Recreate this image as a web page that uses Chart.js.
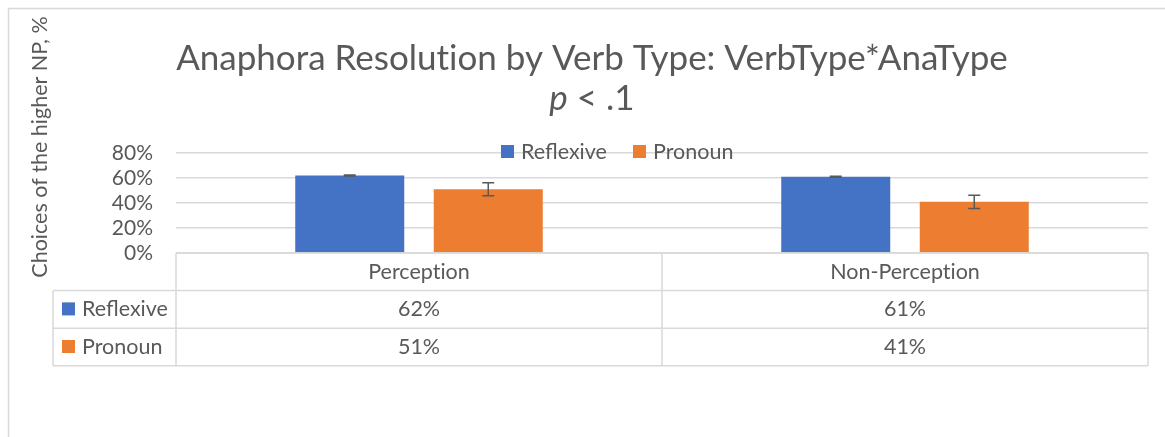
<!DOCTYPE html>
<html>
<head>
<meta charset="utf-8">
<script src="https://cdn.jsdelivr.net/npm/chart.js@4.4.1/dist/chart.umd.min.js"></script>
<style>
html, body { margin: 0; padding: 0; background: #fff; }
canvas { display: block; }
</style>
</head>
<body>
<canvas id="chart" width="1165" height="437"></canvas>
<script>
// data
var verbTypes = ['Perception', 'Non-Perception'];
var seriesNames = ['Reflexive', 'Pronoun'];
var reflexive = [0.62, 0.61];
var pronoun = [0.51, 0.41];
var reflexiveErr = [0.004, 0.004];
var pronounErr = [0.052, 0.053];
var yTicks = [0, 0.2, 0.4, 0.6, 0.8];

var FONT = 'Lato, "Open Sans", sans-serif';
var TEXT = '#595959';
var GRID = '#d9d9d9';
var BLUE = '#4472c4';
var ORANGE = '#ed7d31';

function pct(v) {
	return Math.round(v * 100) + '%';
}

// Lato joins "ti" into a ligature, a zero width non-joiner keeps the letters apart
function noLig(s) {
	return s.replace(/ti/g, 't\u200Ci');
}

// error bars on top of each bar
var errorBars = {
	id: 'errorBars',
	afterDatasetsDraw: function(chart) {
		var ctx = chart.ctx;
		var y = chart.scales.y;
		ctx.save();
		ctx.strokeStyle = TEXT;
		ctx.lineWidth = 1.5;
		chart.data.datasets.forEach(function(ds, i) {
			var meta = chart.getDatasetMeta(i);
			meta.data.forEach(function(bar, j) {
				var v = ds.data[j], e = ds.errors[j];
				var top = y.getPixelForValue(v + e);
				var bot = y.getPixelForValue(v - e);
				ctx.beginPath();
				ctx.moveTo(bar.x, top);
				ctx.lineTo(bar.x, bot);
				ctx.moveTo(bar.x - 6, top);
				ctx.lineTo(bar.x + 6, top);
				ctx.moveTo(bar.x - 6, bot);
				ctx.lineTo(bar.x + 6, bot);
				ctx.stroke();
			});
		});
		ctx.restore();
	}
};

// frame, titles, legend, axis title and the data table
var decorations = {
	id: 'decorations',
	afterDraw: function(chart) {
		var ctx = chart.ctx;
		var area = chart.chartArea;
		var x = chart.scales.x;
		var datasets = chart.data.datasets;
		ctx.save();

		// outer frame
		ctx.strokeStyle = GRID;
		ctx.lineWidth = 1.5;
		ctx.strokeRect(8.5, 8.5, 1170, 440);

		// title
		ctx.fillStyle = TEXT;
		ctx.textAlign = 'center';
		ctx.textBaseline = 'alphabetic';
		ctx.font = '35px ' + FONT;
		ctx.fillText(noLig('Anaphora Resolution by Verb Type: VerbType*AnaType'), 592, 70);

		// second title line with italic p
		var italic = 'italic 35px ' + FONT;
		var normal = '35px ' + FONT;
		ctx.font = italic;
		var w1 = ctx.measureText('p').width;
		ctx.font = normal;
		var w2 = ctx.measureText(' < .1').width;
		var startX = 592 - (w1 + w2) / 2;
		ctx.textAlign = 'left';
		ctx.font = italic;
		ctx.fillText('p', startX, 110);
		ctx.font = normal;
		ctx.fillText(' < .1', startX + w1, 110);

		// legend inside the plot top
		ctx.font = '21.5px ' + FONT;
		ctx.textBaseline = 'middle';
		var legendX = [501, 633];
		datasets.forEach(function(ds, i) {
			ctx.fillStyle = ds.backgroundColor;
			ctx.fillRect(legendX[i], 145, 13, 13);
			ctx.fillStyle = TEXT;
			ctx.fillText(ds.label, legendX[i] + 20, 152);
		});

		// y axis title
		ctx.save();
		ctx.translate(40, 147);
		ctx.rotate(-Math.PI / 2);
		ctx.textAlign = 'center';
		ctx.font = '21.5px ' + FONT;
		ctx.fillText('Choices of the higher NP, %', 0, 0);
		ctx.restore();

		// data table
		var half = (x.getPixelForValue(1) - x.getPixelForValue(0)) / 2;
		var rowH = 37.6;
		var top = area.bottom;
		var left = 53;
		ctx.strokeStyle = GRID;
		ctx.lineWidth = 1.5;
		ctx.beginPath();
		// horizontal lines
		ctx.moveTo(area.left, top);
		ctx.lineTo(area.right, top);
		for (var r = 1; r <= datasets.length + 1; r++) {
			ctx.moveTo(left, top + r * rowH);
			ctx.lineTo(area.right, top + r * rowH);
		}
		// vertical lines
		var bottom = top + (datasets.length + 1) * rowH;
		ctx.moveTo(left, top + rowH);
		ctx.lineTo(left, bottom);
		verbTypes.forEach(function(c, i) {
			var cx = x.getPixelForValue(i);
			ctx.moveTo(cx - half, top);
			ctx.lineTo(cx - half, bottom);
			if (i === verbTypes.length - 1) {
				ctx.moveTo(cx + half, top);
				ctx.lineTo(cx + half, bottom);
			}
		});
		ctx.stroke();

		ctx.font = '21.5px ' + FONT;
		ctx.textBaseline = 'middle';
		ctx.textAlign = 'center';
		ctx.fillStyle = TEXT;
		verbTypes.forEach(function(c, i) {
			ctx.fillText(noLig(c), x.getPixelForValue(i), top + rowH / 2);
		});
		datasets.forEach(function(ds, r) {
			var cy = top + (r + 1.5) * rowH;
			ctx.fillStyle = ds.backgroundColor;
			ctx.fillRect(62, cy - 7, 13, 13);
			ctx.fillStyle = TEXT;
			ctx.textAlign = 'left';
			ctx.fillText(ds.label, 82, cy);
			ctx.textAlign = 'center';
			ds.data.forEach(function(v, i) {
				ctx.fillText(pct(v), x.getPixelForValue(i), cy);
			});
		});

		ctx.restore();
	}
};

new Chart(document.getElementById('chart'), {
	type: 'bar',
	data: {
		labels: verbTypes,
		datasets: [{
			label: seriesNames[0],
			data: reflexive,
			errors: reflexiveErr,
			backgroundColor: BLUE,
			borderWidth: 0
		}, {
			label: seriesNames[1],
			data: pronoun,
			errors: pronounErr,
			backgroundColor: ORANGE,
			borderWidth: 0
		}]
	},
	options: {
		responsive: false,
		animation: false,
		categoryPercentage: 0.57,
		barPercentage: 0.787,
		layout: {
			padding: { top: 153, bottom: 184, left: 0, right: 17 }
		},
		plugins: {
			legend: { display: false },
			title: { display: false },
			tooltip: { enabled: false }
		},
		scales: {
			x: {
				display: false
			},
			y: {
				min: 0,
				max: 0.8,
				afterBuildTicks: function(scale) {
					scale.ticks = yTicks.map(function(v) { return { value: v }; });
				},
				afterFit: function(scale) {
					scale.width = 176;
				},
				border: { display: false },
				grid: { color: GRID, lineWidth: 1.5, drawTicks: false },
				ticks: {
					autoSkip: false,
					padding: 23,
					color: TEXT,
					font: { family: FONT, size: 21 },
					callback: function(v) { return pct(v); }
				}
			}
		}
	},
	plugins: [errorBars, decorations]
});
</script>
</body>
</html>
